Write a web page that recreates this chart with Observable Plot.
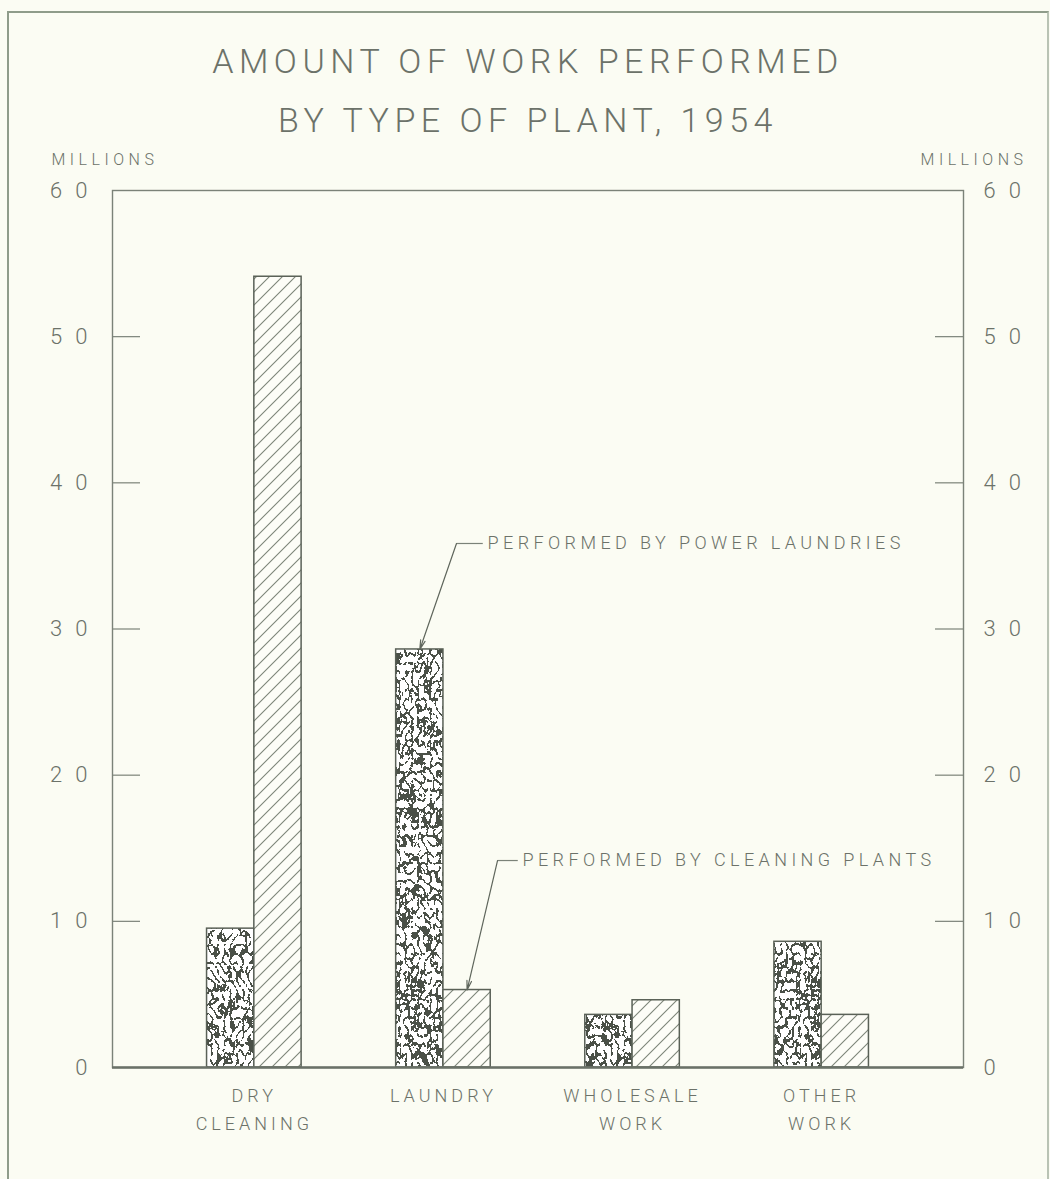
<!DOCTYPE html>
<html>
<head>
<meta charset="utf-8">
<script src="https://cdn.jsdelivr.net/npm/d3@7"></script>
<script src="https://cdn.jsdelivr.net/npm/@observablehq/plot@0.6"></script>
<style>
  html, body { margin: 0; padding: 0; background: #fbfcf3; }
  #wrap { position: relative; width: 1050px; height: 1179px; overflow: hidden; background: #fbfcf3; }
  #border { position: absolute; left: 7px; top: 11px; width: 1038px; height: 1200px;
            border-left: 2px solid #8f9c8a; border-top: 2px solid #8f9c8a; border-right: 2px solid #b9c3b4; }
  #chart { position: absolute; left: 0; top: 0; }
  #chart svg text { font-weight: 300; }
  #chart svg g[aria-label="text"][font-size="34"] { letter-spacing: 5.5px; }
  #chart svg g[aria-label="text"][font-size="16"] { letter-spacing: 4.5px; }
  #chart svg g[aria-label="text"][font-size="18"] { letter-spacing: 4.4px; }
  #chart svg g[aria-label="y-axis tick label"] { letter-spacing: 13px; }
  #chart svg g[aria-label="x-axis tick label"] { letter-spacing: 4px; }
</style>
</head>
<body>
<svg width="0" height="0" style="position:absolute">
  <defs>
    <filter id="wormf" x="0" y="0" width="1" height="1" filterUnits="objectBoundingBox" color-interpolation-filters="sRGB">
      <feTurbulence type="turbulence" baseFrequency="0.16 0.11" numOctaves="2" seed="7" result="n"/>
      <feColorMatrix in="n" type="matrix" values="0 0 0 0 0  0 0 0 0 0  0 0 0 0 0  -2.6 0 0 0 1" result="a"/>
      <feComponentTransfer in="a" result="th"><feFuncA type="discrete" tableValues="0 1"/></feComponentTransfer>
      <feFlood flood-color="#4a5047" result="c"/>
      <feComposite in="c" in2="th" operator="in" result="ink"/>
      <feFlood flood-color="#ffffff" result="bg"/>
      <feMerge><feMergeNode in="bg"/><feMergeNode in="ink"/></feMerge>
    </filter>
    <pattern id="worm" patternUnits="userSpaceOnUse" x="0" y="0" width="400" height="1000">
      <rect x="0" y="0" width="400" height="1000" filter="url(#wormf)"/>
    </pattern>
    <pattern id="hatch" patternUnits="userSpaceOnUse" width="13" height="13">
      <rect width="13" height="13" fill="#fdfdf7"/>
      <path d="M-1,1 l2,-2 M0,13 l13,-13 M12,14 l2,-2" stroke="#7d8579" stroke-width="1.1"/>
    </pattern>
  </defs>
</svg>
<div id="wrap">
  <div id="border"></div>
  <div id="chart"></div>
</div>
<script>
// ---- data ----
const categories = ["DRY CLEANING", "LAUNDRY", "WHOLESALE WORK", "OTHER WORK"];
const categoryTickLabels = ["DRY\nCLEANING", "LAUNDRY", "WHOLESALE\nWORK", "OTHER\nWORK"];
const powerLaundries = [9.5, 28.6, 3.6, 8.6];   // millions
const cleaningPlants = [54.1, 5.3, 4.6, 3.6];   // millions
const yTickValues = [0, 10, 20, 30, 40, 50, 60];
const yInnerTicks = [10, 20, 30, 40, 50];
const titleText = "AMOUNT OF WORK PERFORMED\nBY TYPE OF PLANT, 1954";
const unitLabel = "MILLIONS";
const annotationLabels = ["PERFORMED BY POWER LAUNDRIES", "PERFORMED BY CLEANING PLANTS"];
const annotationTargets = [{cat: "LAUNDRY", series: "power"}, {cat: "LAUNDRY", series: "cleaning"}];

// ---- table built from arrays ----
const seriesOffset = {power: -0.25, cleaning: 0};
const rows = categories.flatMap((c, i) => [
  {cat: c, i, series: "power", value: powerLaundries[i]},
  {cat: c, i, series: "cleaning", value: cleaningPlants[i]}
]);
const x1 = d => d.i + seriesOffset[d.series];
const x2 = d => d.i + seriesOffset[d.series] + 0.25;

// annotation leader geometry (in data units)
const annotationLayout = [
  {cornerX: 1.069, labelY: 35.85, textX: 1.233},
  {cornerX: 1.286, labelY: 14.16, textX: 1.418}
];
const annots = annotationLabels.map((label, k) => {
  const t = annotationTargets[k];
  const r = rows.find(d => d.cat === t.cat && d.series === t.series);
  return {label, ...annotationLayout[k], tipX: (x1(r) + x2(r)) / 2, tipY: r.value};
});

const ink = "#6c7269";
const lineCol = "#7b8278";

const plot = Plot.plot({
  width: 1050,
  height: 1179,
  marginTop: 190,
  marginBottom: 112,
  marginLeft: 112,
  marginRight: 87,
  style: {background: "transparent", color: ink, fontFamily: "Roboto, 'DejaVu Sans', sans-serif"},
  x: {type: "linear", domain: [-0.75, 3.75]},
  y: {domain: [0, 60]},
  marks: [
    Plot.rect(rows.filter(d => d.series === "power"), {x1, x2, y1: 0, y2: "value", fill: "url(#worm)", stroke: "#5a6157", strokeWidth: 1.5}),
    Plot.rect(rows.filter(d => d.series === "cleaning"), {x1, x2, y1: 0, y2: "value", fill: "url(#hatch)", stroke: "#5a6157", strokeWidth: 1.5}),
    Plot.frame({stroke: lineCol, strokeWidth: 1.4}),
    Plot.ruleY([0], {stroke: "#6a7167", strokeWidth: 2.5}),
    Plot.ruleY(yInnerTicks, {stroke: lineCol, strokeWidth: 1.2, insetRight: 851 - 28}),
    Plot.ruleY(yInnerTicks, {stroke: lineCol, strokeWidth: 1.2, insetLeft: 851 - 28}),
    Plot.axisY({anchor: "left", ticks: yTickValues, tickSize: 0, tickPadding: 12, fontSize: 22, label: null}),
    Plot.axisY({anchor: "right", ticks: yTickValues, tickSize: 0, tickPadding: 20, fontSize: 22, label: null}),
    Plot.axisX({ticks: [0, 1, 2, 3], tickFormat: i => categoryTickLabels[i], tickSize: 0, tickPadding: 15, fontSize: 18, lineHeight: 1.55, label: null}),
    // title
    Plot.text([titleText], {text: d => d, frameAnchor: "top", lineAnchor: "top", dy: -159, dx: -10, fontSize: 34, lineHeight: 1.72, fill: ink}),
    // unit labels
    Plot.text([unitLabel], {text: d => d, frameAnchor: "top-left", textAnchor: "start", lineAnchor: "top", dx: -61, dy: -37, fontSize: 16, fill: ink}),
    Plot.text([unitLabel], {text: d => d, frameAnchor: "top-right", textAnchor: "end", lineAnchor: "top", dx: 64, dy: -37, fontSize: 16, fill: ink}),
    // annotation leaders
    Plot.link(annots, {x1: "cornerX", y1: "labelY", x2: d => d.textX - 0.025, y2: "labelY", stroke: lineCol, strokeWidth: 1.2}),
    Plot.arrow(annots, {x1: "cornerX", y1: "labelY", x2: "tipX", y2: "tipY", stroke: "#5f665c", strokeWidth: 1.2, headLength: 12, headAngle: 28}),
    Plot.text(annots, {x: "textX", y: "labelY", text: "label", textAnchor: "start", fontSize: 18, fill: ink})
  ]
});
document.getElementById("chart").appendChild(plot);
</script>
</body>
</html>
